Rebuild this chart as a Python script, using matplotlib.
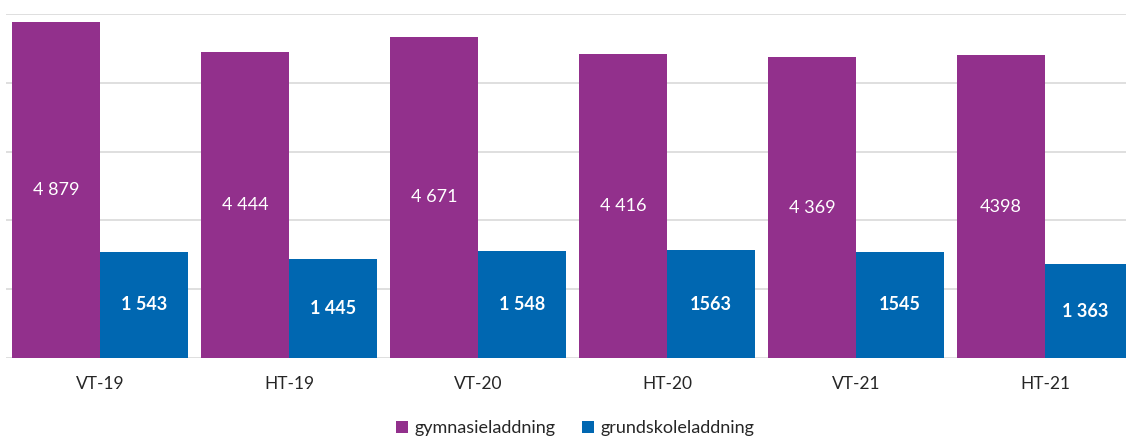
import numpy as np
import matplotlib.pyplot as plt

# data
terms = ["VT-19", "HT-19", "VT-20", "HT-20", "VT-21", "HT-21"]
gymnasie = [4879, 4444, 4671, 4416, 4369, 4398]
grundskola = [1543, 1445, 1548, 1563, 1545, 1363]
gymnasie_labels = ["4 879", "4 444", "4 671", "4 416", "4 369", "4398"]
grundskola_labels = ["1 543", "1 445", "1 548", "1563", "1545", "1 363"]

purple = "#92308C"
blue = "#0067B1"

plt.rcParams["font.family"] = ["Lato", "DejaVu Sans"]

fig = plt.figure(figsize=(11.26, 4.37), dpi=100)
ax = fig.add_axes([5.5 / 1126, 79 / 437, 1 - 5.5 / 1126, 344 / 437])

x = np.arange(len(terms))
w = 0.466
b1 = ax.bar(x - w / 2, gymnasie, w, color=purple, label="gymnasieladdning", zorder=2)
b2 = ax.bar(x + w / 2, grundskola, w, color=blue, label="grundskoleladdning", zorder=2)

ax.bar_label(b1, labels=gymnasie_labels, label_type="center", color="white", fontsize=13)
ax.bar_label(b2, labels=grundskola_labels, label_type="center", color="white",
             fontsize=13, fontweight="bold")

ax.set_xlim(-0.5, (1126 - 5.5) / 189 - 0.5)
ax.set_ylim(0, 5000)
ax.set_yticks(range(0, 5001, 1000))
ax.set_yticklabels([])
ax.tick_params(axis="y", length=0)
ax.tick_params(axis="x", length=0, pad=13, labelsize=12.5, labelcolor="#262626")
ax.set_xticks(x)
ax.set_xticklabels(terms)
ax.grid(axis="y", color="#D9D9D9", linewidth=1.2, zorder=0)
for s in ax.spines.values():
    s.set_visible(False)

ax.legend(loc="center", bbox_to_anchor=(575 / 1126, 9 / 437), bbox_transform=fig.transFigure,
          ncol=2, frameon=False, fontsize=13, handlelength=0.65, handleheight=0.65,
          handletextpad=0.35, columnspacing=1.5, labelcolor="#262626")

fig.savefig("out.png", dpi=100)
